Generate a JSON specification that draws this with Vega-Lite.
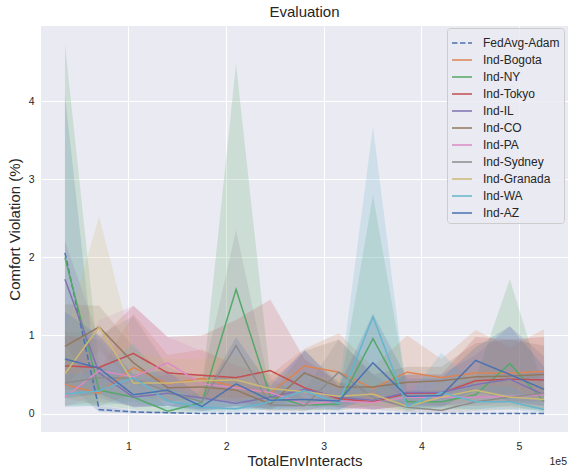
{
  "$schema": "https://vega.github.io/schema/vega-lite/v6.json",
  "width": 527,
  "height": 406,
  "autosize": {"type": "none"},
  "padding": {"left": 41, "top": 26, "right": 1, "bottom": 40},
  "title": {"text": "Evaluation", "fontSize": 15, "fontWeight": "normal", "color": "#262626", "offset": 6, "anchor": "middle", "font": "Liberation Sans"},
  "data": {"values": [
    {"s":"FedAvg-Adam","x":35040,"y":2.06,"lo":0.4,"hi":4.08},
    {"s":"FedAvg-Adam","x":70080,"y":0.05,"lo":0.02,"hi":0.1},
    {"s":"FedAvg-Adam","x":105120,"y":0.02,"lo":0.0,"hi":0.04},
    {"s":"FedAvg-Adam","x":140160,"y":0.01,"lo":0.0,"hi":0.02},
    {"s":"FedAvg-Adam","x":175200,"y":0.0,"lo":0.0,"hi":0.01},
    {"s":"FedAvg-Adam","x":210240,"y":0.0,"lo":0.0,"hi":0.01},
    {"s":"FedAvg-Adam","x":245280,"y":0.0,"lo":0.0,"hi":0.01},
    {"s":"FedAvg-Adam","x":280320,"y":0.0,"lo":0.0,"hi":0.01},
    {"s":"FedAvg-Adam","x":315360,"y":0.0,"lo":0.0,"hi":0.01},
    {"s":"FedAvg-Adam","x":350400,"y":0.0,"lo":0.0,"hi":0.01},
    {"s":"FedAvg-Adam","x":385440,"y":0.0,"lo":0.0,"hi":0.01},
    {"s":"FedAvg-Adam","x":420480,"y":0.0,"lo":0.0,"hi":0.01},
    {"s":"FedAvg-Adam","x":455520,"y":0.0,"lo":0.0,"hi":0.01},
    {"s":"FedAvg-Adam","x":490560,"y":0.0,"lo":0.0,"hi":0.01},
    {"s":"FedAvg-Adam","x":525600,"y":0.0,"lo":0.0,"hi":0.01},

    {"s":"Ind-Bogota","x":35040,"y":0.37,"lo":0.2,"hi":0.7},
    {"s":"Ind-Bogota","x":70080,"y":0.26,"lo":0.1,"hi":0.55},
    {"s":"Ind-Bogota","x":105120,"y":0.59,"lo":0.25,"hi":1.28},
    {"s":"Ind-Bogota","x":140160,"y":0.38,"lo":0.15,"hi":0.75},
    {"s":"Ind-Bogota","x":175200,"y":0.45,"lo":0.2,"hi":0.82},
    {"s":"Ind-Bogota","x":210240,"y":0.34,"lo":0.15,"hi":0.62},
    {"s":"Ind-Bogota","x":245280,"y":0.26,"lo":0.1,"hi":0.5},
    {"s":"Ind-Bogota","x":280320,"y":0.61,"lo":0.35,"hi":0.83},
    {"s":"Ind-Bogota","x":315360,"y":0.53,"lo":0.2,"hi":1.03},
    {"s":"Ind-Bogota","x":350400,"y":0.32,"lo":0.15,"hi":0.6},
    {"s":"Ind-Bogota","x":385440,"y":0.53,"lo":0.2,"hi":1.0},
    {"s":"Ind-Bogota","x":420480,"y":0.46,"lo":0.25,"hi":0.7},
    {"s":"Ind-Bogota","x":455520,"y":0.52,"lo":0.2,"hi":1.07},
    {"s":"Ind-Bogota","x":490560,"y":0.52,"lo":0.25,"hi":0.85},
    {"s":"Ind-Bogota","x":525600,"y":0.54,"lo":0.2,"hi":1.08},

    {"s":"Ind-NY","x":35040,"y":2.0,"lo":0.1,"hi":4.73},
    {"s":"Ind-NY","x":70080,"y":0.3,"lo":0.1,"hi":0.6},
    {"s":"Ind-NY","x":105120,"y":0.21,"lo":0.05,"hi":0.45},
    {"s":"Ind-NY","x":140160,"y":0.03,"lo":0.0,"hi":0.08},
    {"s":"Ind-NY","x":175200,"y":0.14,"lo":0.03,"hi":0.3},
    {"s":"Ind-NY","x":210240,"y":1.59,"lo":0.05,"hi":4.48},
    {"s":"Ind-NY","x":245280,"y":0.22,"lo":0.05,"hi":0.45},
    {"s":"Ind-NY","x":280320,"y":0.11,"lo":0.04,"hi":0.2},
    {"s":"Ind-NY","x":315360,"y":0.12,"lo":0.04,"hi":0.22},
    {"s":"Ind-NY","x":350400,"y":0.96,"lo":0.1,"hi":2.8},
    {"s":"Ind-NY","x":385440,"y":0.15,"lo":0.05,"hi":0.3},
    {"s":"Ind-NY","x":420480,"y":0.15,"lo":0.05,"hi":0.3},
    {"s":"Ind-NY","x":455520,"y":0.24,"lo":0.05,"hi":0.45},
    {"s":"Ind-NY","x":490560,"y":0.64,"lo":0.1,"hi":1.72},
    {"s":"Ind-NY","x":525600,"y":0.15,"lo":0.02,"hi":0.3},

    {"s":"Ind-Tokyo","x":35040,"y":0.61,"lo":0.3,"hi":1.0},
    {"s":"Ind-Tokyo","x":70080,"y":0.59,"lo":0.3,"hi":0.95},
    {"s":"Ind-Tokyo","x":105120,"y":0.77,"lo":0.4,"hi":1.38},
    {"s":"Ind-Tokyo","x":140160,"y":0.52,"lo":0.3,"hi":0.98},
    {"s":"Ind-Tokyo","x":175200,"y":0.49,"lo":0.2,"hi":1.0},
    {"s":"Ind-Tokyo","x":210240,"y":0.46,"lo":0.2,"hi":1.2},
    {"s":"Ind-Tokyo","x":245280,"y":0.55,"lo":0.2,"hi":1.46},
    {"s":"Ind-Tokyo","x":280320,"y":0.33,"lo":0.15,"hi":0.7},
    {"s":"Ind-Tokyo","x":315360,"y":0.19,"lo":0.08,"hi":0.4},
    {"s":"Ind-Tokyo","x":350400,"y":0.15,"lo":0.05,"hi":0.3},
    {"s":"Ind-Tokyo","x":385440,"y":0.26,"lo":0.1,"hi":0.5},
    {"s":"Ind-Tokyo","x":420480,"y":0.26,"lo":0.1,"hi":0.5},
    {"s":"Ind-Tokyo","x":455520,"y":0.42,"lo":0.15,"hi":0.98},
    {"s":"Ind-Tokyo","x":490560,"y":0.44,"lo":0.15,"hi":0.95},
    {"s":"Ind-Tokyo","x":525600,"y":0.43,"lo":0.15,"hi":0.98},

    {"s":"Ind-IL","x":35040,"y":1.72,"lo":0.9,"hi":2.21},
    {"s":"Ind-IL","x":70080,"y":0.52,"lo":0.2,"hi":0.95},
    {"s":"Ind-IL","x":105120,"y":0.21,"lo":0.08,"hi":0.4},
    {"s":"Ind-IL","x":140160,"y":0.26,"lo":0.1,"hi":0.5},
    {"s":"Ind-IL","x":175200,"y":0.2,"lo":0.05,"hi":0.45},
    {"s":"Ind-IL","x":210240,"y":0.13,"lo":0.05,"hi":0.3},
    {"s":"Ind-IL","x":245280,"y":0.21,"lo":0.08,"hi":0.4},
    {"s":"Ind-IL","x":280320,"y":0.31,"lo":0.1,"hi":0.8},
    {"s":"Ind-IL","x":315360,"y":0.21,"lo":0.08,"hi":0.4},
    {"s":"Ind-IL","x":350400,"y":0.17,"lo":0.05,"hi":0.35},
    {"s":"Ind-IL","x":385440,"y":0.27,"lo":0.1,"hi":0.5},
    {"s":"Ind-IL","x":420480,"y":0.27,"lo":0.1,"hi":0.5},
    {"s":"Ind-IL","x":455520,"y":0.37,"lo":0.1,"hi":0.75},
    {"s":"Ind-IL","x":490560,"y":0.44,"lo":0.15,"hi":1.12},
    {"s":"Ind-IL","x":525600,"y":0.24,"lo":0.05,"hi":0.73},

    {"s":"Ind-CO","x":35040,"y":0.86,"lo":0.35,"hi":1.4},
    {"s":"Ind-CO","x":70080,"y":1.11,"lo":0.8,"hi":1.38},
    {"s":"Ind-CO","x":105120,"y":0.65,"lo":0.4,"hi":0.85},
    {"s":"Ind-CO","x":140160,"y":0.33,"lo":0.15,"hi":0.5},
    {"s":"Ind-CO","x":175200,"y":0.34,"lo":0.2,"hi":0.5},
    {"s":"Ind-CO","x":210240,"y":0.3,"lo":0.15,"hi":0.45},
    {"s":"Ind-CO","x":245280,"y":0.12,"lo":0.05,"hi":0.25},
    {"s":"Ind-CO","x":280320,"y":0.52,"lo":0.25,"hi":0.8},
    {"s":"Ind-CO","x":315360,"y":0.34,"lo":0.1,"hi":0.95},
    {"s":"Ind-CO","x":350400,"y":0.34,"lo":0.2,"hi":0.5},
    {"s":"Ind-CO","x":385440,"y":0.4,"lo":0.25,"hi":0.6},
    {"s":"Ind-CO","x":420480,"y":0.42,"lo":0.25,"hi":0.6},
    {"s":"Ind-CO","x":455520,"y":0.47,"lo":0.25,"hi":0.9},
    {"s":"Ind-CO","x":490560,"y":0.48,"lo":0.25,"hi":0.95},
    {"s":"Ind-CO","x":525600,"y":0.5,"lo":0.25,"hi":0.87},

    {"s":"Ind-PA","x":35040,"y":0.21,"lo":0.09,"hi":0.45},
    {"s":"Ind-PA","x":70080,"y":0.55,"lo":0.25,"hi":1.2},
    {"s":"Ind-PA","x":105120,"y":0.47,"lo":0.2,"hi":1.38},
    {"s":"Ind-PA","x":140160,"y":0.65,"lo":0.35,"hi":0.98},
    {"s":"Ind-PA","x":175200,"y":0.38,"lo":0.15,"hi":0.8},
    {"s":"Ind-PA","x":210240,"y":0.33,"lo":0.15,"hi":0.6},
    {"s":"Ind-PA","x":245280,"y":0.27,"lo":0.1,"hi":0.5},
    {"s":"Ind-PA","x":280320,"y":0.12,"lo":0.05,"hi":0.3},
    {"s":"Ind-PA","x":315360,"y":0.16,"lo":0.05,"hi":0.3},
    {"s":"Ind-PA","x":350400,"y":0.14,"lo":0.05,"hi":0.3},
    {"s":"Ind-PA","x":385440,"y":0.21,"lo":0.1,"hi":0.35},
    {"s":"Ind-PA","x":420480,"y":0.21,"lo":0.1,"hi":0.35},
    {"s":"Ind-PA","x":455520,"y":0.21,"lo":0.1,"hi":0.4},
    {"s":"Ind-PA","x":490560,"y":0.22,"lo":0.1,"hi":0.4},
    {"s":"Ind-PA","x":525600,"y":0.24,"lo":0.1,"hi":0.45},

    {"s":"Ind-Sydney","x":35040,"y":0.39,"lo":0.1,"hi":1.05},
    {"s":"Ind-Sydney","x":70080,"y":0.46,"lo":0.15,"hi":1.0},
    {"s":"Ind-Sydney","x":105120,"y":0.45,"lo":0.1,"hi":1.25},
    {"s":"Ind-Sydney","x":140160,"y":0.28,"lo":0.1,"hi":0.6},
    {"s":"Ind-Sydney","x":175200,"y":0.15,"lo":0.05,"hi":0.4},
    {"s":"Ind-Sydney","x":210240,"y":0.87,"lo":0.1,"hi":2.35},
    {"s":"Ind-Sydney","x":245280,"y":0.11,"lo":0.03,"hi":0.3},
    {"s":"Ind-Sydney","x":280320,"y":0.1,"lo":0.03,"hi":0.3},
    {"s":"Ind-Sydney","x":315360,"y":0.53,"lo":0.15,"hi":0.95},
    {"s":"Ind-Sydney","x":350400,"y":0.2,"lo":0.05,"hi":0.5},
    {"s":"Ind-Sydney","x":385440,"y":0.08,"lo":0.02,"hi":0.25},
    {"s":"Ind-Sydney","x":420480,"y":0.04,"lo":0.01,"hi":0.15},
    {"s":"Ind-Sydney","x":455520,"y":0.15,"lo":0.03,"hi":0.35},
    {"s":"Ind-Sydney","x":490560,"y":0.21,"lo":0.05,"hi":0.45},
    {"s":"Ind-Sydney","x":525600,"y":0.26,"lo":0.05,"hi":0.55},

    {"s":"Ind-Granada","x":35040,"y":0.51,"lo":0.2,"hi":1.0},
    {"s":"Ind-Granada","x":70080,"y":1.11,"lo":0.2,"hi":2.53},
    {"s":"Ind-Granada","x":105120,"y":0.39,"lo":0.15,"hi":0.8},
    {"s":"Ind-Granada","x":140160,"y":0.39,"lo":0.15,"hi":0.7},
    {"s":"Ind-Granada","x":175200,"y":0.42,"lo":0.15,"hi":0.7},
    {"s":"Ind-Granada","x":210240,"y":0.43,"lo":0.2,"hi":0.75},
    {"s":"Ind-Granada","x":245280,"y":0.32,"lo":0.12,"hi":0.55},
    {"s":"Ind-Granada","x":280320,"y":0.28,"lo":0.1,"hi":0.5},
    {"s":"Ind-Granada","x":315360,"y":0.22,"lo":0.08,"hi":0.45},
    {"s":"Ind-Granada","x":350400,"y":0.25,"lo":0.1,"hi":0.45},
    {"s":"Ind-Granada","x":385440,"y":0.09,"lo":0.03,"hi":0.2},
    {"s":"Ind-Granada","x":420480,"y":0.21,"lo":0.08,"hi":0.4},
    {"s":"Ind-Granada","x":455520,"y":0.3,"lo":0.1,"hi":0.55},
    {"s":"Ind-Granada","x":490560,"y":0.21,"lo":0.08,"hi":0.45},
    {"s":"Ind-Granada","x":525600,"y":0.18,"lo":0.05,"hi":0.4},

    {"s":"Ind-WA","x":35040,"y":0.25,"lo":0.08,"hi":0.5},
    {"s":"Ind-WA","x":70080,"y":0.29,"lo":0.1,"hi":0.55},
    {"s":"Ind-WA","x":105120,"y":0.46,"lo":0.15,"hi":0.9},
    {"s":"Ind-WA","x":140160,"y":0.16,"lo":0.05,"hi":0.35},
    {"s":"Ind-WA","x":175200,"y":0.08,"lo":0.02,"hi":0.2},
    {"s":"Ind-WA","x":210240,"y":0.06,"lo":0.02,"hi":0.15},
    {"s":"Ind-WA","x":245280,"y":0.15,"lo":0.05,"hi":0.3},
    {"s":"Ind-WA","x":280320,"y":0.29,"lo":0.1,"hi":0.55},
    {"s":"Ind-WA","x":315360,"y":0.13,"lo":0.04,"hi":0.3},
    {"s":"Ind-WA","x":350400,"y":1.24,"lo":0.3,"hi":3.68},
    {"s":"Ind-WA","x":385440,"y":0.09,"lo":0.03,"hi":0.2},
    {"s":"Ind-WA","x":420480,"y":0.27,"lo":0.08,"hi":0.78},
    {"s":"Ind-WA","x":455520,"y":0.15,"lo":0.05,"hi":0.35},
    {"s":"Ind-WA","x":490560,"y":0.15,"lo":0.05,"hi":0.35},
    {"s":"Ind-WA","x":525600,"y":0.05,"lo":0.01,"hi":0.12},

    {"s":"Ind-AZ","x":35040,"y":0.7,"lo":0.2,"hi":1.3},
    {"s":"Ind-AZ","x":70080,"y":0.58,"lo":0.25,"hi":1.0},
    {"s":"Ind-AZ","x":105120,"y":0.24,"lo":0.08,"hi":0.5},
    {"s":"Ind-AZ","x":140160,"y":0.3,"lo":0.1,"hi":0.55},
    {"s":"Ind-AZ","x":175200,"y":0.09,"lo":0.03,"hi":0.2},
    {"s":"Ind-AZ","x":210240,"y":0.38,"lo":0.1,"hi":0.98},
    {"s":"Ind-AZ","x":245280,"y":0.17,"lo":0.05,"hi":0.35},
    {"s":"Ind-AZ","x":280320,"y":0.18,"lo":0.05,"hi":0.82},
    {"s":"Ind-AZ","x":315360,"y":0.16,"lo":0.05,"hi":0.35},
    {"s":"Ind-AZ","x":350400,"y":0.65,"lo":0.2,"hi":1.28},
    {"s":"Ind-AZ","x":385440,"y":0.22,"lo":0.08,"hi":0.45},
    {"s":"Ind-AZ","x":420480,"y":0.23,"lo":0.08,"hi":0.45},
    {"s":"Ind-AZ","x":455520,"y":0.68,"lo":0.3,"hi":0.85},
    {"s":"Ind-AZ","x":490560,"y":0.5,"lo":0.15,"hi":1.12},
    {"s":"Ind-AZ","x":525600,"y":0.31,"lo":0.1,"hi":0.6}
  ]},
  "layer": [
    {
      "mark": {"type": "area", "fillOpacity": 0.2, "strokeWidth": 0},
      "encoding": {
        "x": {"field": "x", "type": "quantitative", "title": "TotalEnvInteracts",
              "scale": {"domain": [10512, 550128], "nice": false, "zero": false},
              "axis": {"values": [100000, 200000, 300000, 400000, 500000],
                       "labelExpr": "datum.value / 100000", "labelPadding": 9, "titlePadding": 2}},
        "y": {"field": "lo", "type": "quantitative", "title": "Comfort Violation (%)",
              "scale": {"domain": [-0.237, 4.967], "nice": false, "zero": false},
              "axis": {"values": [0, 1, 2, 3, 4], "format": "d", "labelPadding": 7, "titlePadding": 6}},
        "y2": {"field": "hi"},
        "fill": {"field": "s", "type": "nominal", "legend": null,
                  "scale": {"domain": ["Ind-AZ","Ind-WA","Ind-Granada","Ind-Sydney","Ind-PA","Ind-CO","Ind-IL","Ind-Tokyo","Ind-NY","Ind-Bogota","FedAvg-Adam"],
                            "range": ["#4C72B0","#64B5CD","#CCB974","#8C8C8C","#DA8BC3","#937860","#8172B3","#C44E52","#55A868","#DD8452","#4C72B0"]}},
        "detail": {"field": "s"}
      }
    },
    {
      "mark": {"type": "line", "strokeWidth": 1.5},
      "encoding": {
        "x": {"field": "x", "type": "quantitative", "title": "TotalEnvInteracts"},
        "y": {"field": "y", "type": "quantitative", "title": "Comfort Violation (%)"},
        "color": {"field": "s", "type": "nominal", "title": null,
                  "scale": {"domain": ["FedAvg-Adam","Ind-Bogota","Ind-NY","Ind-Tokyo","Ind-IL","Ind-CO","Ind-PA","Ind-Sydney","Ind-Granada","Ind-WA","Ind-AZ"],
                            "range": ["#4C72B0","#DD8452","#55A868","#C44E52","#8172B3","#937860","#DA8BC3","#8C8C8C","#CCB974","#64B5CD","#4C72B0"]},
                  "legend": {"orient": "none", "legendX": 406, "legendY": 2, "labelFontSize": 12, "labelColor": "#262626", "labelFont": "Liberation Sans",
                             "symbolType": "stroke", "symbolSize": 400, "symbolStrokeWidth": 1.5, "labelOffset": 10, "rowPadding": -6.6,
                             "padding": 4, "fillColor": "rgba(234,234,242,0.85)", "strokeColor": "#cccccc", "cornerRadius": 3}},
        "strokeDash": {"field": "s", "type": "nominal", "title": null,
                       "scale": {"domain": ["FedAvg-Adam","Ind-Bogota","Ind-NY","Ind-Tokyo","Ind-IL","Ind-CO","Ind-PA","Ind-Sydney","Ind-Granada","Ind-WA","Ind-AZ"],
                                 "range": [[5.5,2.5],[1,0],[1,0],[1,0],[1,0],[1,0],[1,0],[1,0],[1,0],[1,0],[1,0]]},
                       "legend": {"orient": "none", "legendX": 406, "legendY": 2, "labelFontSize": 12, "labelColor": "#262626", "labelFont": "Liberation Sans",
                             "symbolType": "stroke", "symbolSize": 400, "symbolStrokeWidth": 1.5, "labelOffset": 10, "rowPadding": -6.6,
                             "padding": 4, "fillColor": "rgba(234,234,242,0.85)", "strokeColor": "#cccccc", "cornerRadius": 3}}
      }
    },
    {
      "data": {"values": [{"label": "1e5"}]},
      "mark": {"type": "text", "align": "right", "baseline": "middle", "fontSize": 10.5, "color": "#262626", "font": "Liberation Sans", "dx": -1},
      "encoding": {
        "text": {"field": "label", "type": "nominal"},
        "x": {"datum": 550128, "type": "quantitative"},
        "y": {"datum": -0.62, "type": "quantitative"}
      }
    }
  ],
  "config": {
    "font": "Liberation Sans",
    "view": {"fill": "#EAEAF2", "stroke": null},
    "axis": {"grid": true, "gridColor": "#ffffff", "gridWidth": 1, "domain": false, "ticks": false, "tickSize": 0,
             "labelColor": "#262626", "titleColor": "#262626", "labelFontSize": 10.5, "titleFontSize": 15, "titleFontWeight": "normal",
             "labelFont": "Liberation Sans", "titleFont": "Liberation Sans"}
  }
}
